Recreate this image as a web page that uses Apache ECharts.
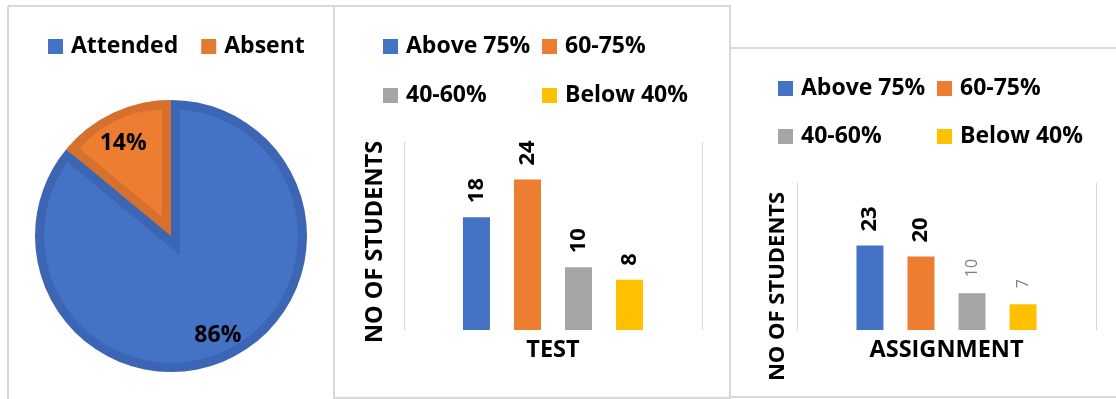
<!DOCTYPE html>
<html>
<head>
<meta charset="utf-8">
<script src="https://cdn.jsdelivr.net/npm/echarts@6/dist/echarts.min.js"></script>
<style>
  html, body { margin: 0; padding: 0; background: #ffffff; }
  #chart { width: 1116px; height: 399px; }
</style>
</head>
<body>
<div id="chart"></div>
<script>
// Attendance split, in percent
const attendanceNames = ['Attended', 'Absent'];
const attendanceValues = [86, 14];

// Score bands shared by both bar charts
const bandNames = ['Above 75%', '60-75%', '40-60%', 'Below 40%'];

// Number of students per band
const testCategory = ['TEST'];
const testCounts = [18, 24, 10, 8];
const assignmentCategory = ['ASSIGNMENT'];
const assignmentCounts = [23, 20, 10, 7];

// Value-axis ranges
const testAxisMax = 30;
const assignmentAxisMax = 40;

const FONT = 'Open Sans';
const BLUE = '#4472C4', BLUE_RIM = '#3C65B3';
const ORANGE = '#ED7D31', ORANGE_RIM = '#D6712D';
const GRAY = '#A5A5A5', YELLOW = '#FFC000';
const BAND_COLORS = [BLUE, ORANGE, GRAY, YELLOW];
const FRAME = '#D9D9D9';
const NONE = 'rgba(0,0,0,0)';

// Pie geometry: each slice gets a darker rim drawn inside its own edges
const PIE_C = [171, 236], PIE_R = 136, RIM = 9;
const total = attendanceValues.reduce((a, b) => a + b, 0);
const half = Math.PI * attendanceValues[1] / total;   // half-angle of the Absent slice
const mid = Math.PI / 2 + half;                          // Absent sits counter-clockwise of 12 o'clock
const shift = RIM / Math.sin(half);
const dir = [Math.cos(mid), -Math.sin(mid)];
const innerR = PIE_R - RIM;
const towardAbsent = [PIE_C[0] + dir[0] * shift, PIE_C[1] + dir[1] * shift];
const awayFromAbsent = [PIE_C[0] - dir[0] * shift, PIE_C[1] - dir[1] * shift];
const wedgeR = shift * Math.cos(half) + Math.sqrt(innerR * innerR - RIM * RIM);
const absentInnerR = innerR - shift + 1;

function pieLayer(colors, radius, center, label, itemLabels) {
  return {
    type: 'pie', silent: true, animation: false,
    startAngle: 90, clockwise: true,
    center: center, radius: radius,
    emphasis: { disabled: true },
    labelLine: { show: false },
    label: label || { show: false },
    data: attendanceNames.map((n, i) => {
      const item = { name: n, value: attendanceValues[i], itemStyle: { color: colors[i] } };
      if (itemLabels && itemLabels[i]) item.label = itemLabels[i];
      return item;
    })
  };
}

const pieSeries = [
  pieLayer([BLUE_RIM, ORANGE_RIM], [0, PIE_R], PIE_C),
  pieLayer([BLUE, NONE], [0, innerR], PIE_C),
  pieLayer([NONE, BLUE_RIM], [0, wedgeR], awayFromAbsent),
  pieLayer([NONE, ORANGE_RIM], [0, PIE_R], PIE_C),
  pieLayer([NONE, ORANGE], [0, absentInnerR], towardAbsent),
  pieLayer([NONE, NONE], [78, PIE_R], PIE_C, {
    show: true, position: 'inside', formatter: '{c}%',
    fontFamily: FONT, fontWeight: 'bold', fontSize: 23, color: '#000'
  }, [null, { offset: [-1, 7] }])
];

const boldLabel = {
  show: true, position: 'top', rotate: 90, align: 'left', verticalAlign: 'middle',
  distance: 14, fontFamily: FONT, fontWeight: 'bold', fontSize: 22, color: '#000'
};
const plainLabel = Object.assign({}, boldLabel, {
  fontWeight: 'normal', fontSize: 16, color: '#7F7F7F', distance: 16
});

function barSeries(counts, axisIdx, yIdx, labels) {
  return bandNames.map((name, i) => ({
    type: 'bar', name: name, xAxisIndex: axisIdx, yAxisIndex: yIdx,
    barWidth: 27, barGap: '89%', animation: false,
    itemStyle: { color: BAND_COLORS[i] },
    label: labels[i],
    data: [counts[i]]
  }));
}

const testSeries = barSeries(testCounts, 0, 0, [boldLabel, boldLabel, boldLabel, boldLabel]);
const assignmentSeries = barSeries(assignmentCounts, 1, 2, [boldLabel, boldLabel, plainLabel, plainLabel]);

const legendText = { fontFamily: FONT, fontWeight: 'bold', fontSize: 23, lineHeight: 23, color: '#000', padding: [0, 0, 0, 3] };
function bandLegend(names, left, top, gap) {
  return {
    data: names, orient: 'vertical', left: left, top: top, itemGap: gap, padding: 0,
    icon: 'rect', itemWidth: 15, itemHeight: 15, selectedMode: false,
    textStyle: legendText
  };
}

function valueAxis(gridIndex, max, position, name, gap, size, shiftDown) {
  return {
    type: 'value', gridIndex: gridIndex, position: position, min: 0, max: max,
    axisLine: { show: true, lineStyle: { color: FRAME, width: 1 } },
    axisTick: { show: false }, axisLabel: { show: false }, splitLine: { show: false },
    name: name || '', nameLocation: 'middle', nameRotate: 90, nameGap: gap || 0,
    nameTextStyle: {
      fontFamily: FONT, fontWeight: 'bold', fontSize: size || 23, lineHeight: 24, color: '#000',
      padding: [0, (shiftDown || 0) * 2, 0, 0]
    }
  };
}

function categoryAxis(gridIndex, data) {
  return {
    type: 'category', gridIndex: gridIndex, data: data,
    axisLine: { show: false }, axisTick: { show: false }, axisLabel: { show: false },
    name: data[0], nameLocation: 'middle', nameGap: 8,
    nameTextStyle: { fontFamily: FONT, fontWeight: 'bold', fontSize: 23.5, color: '#000' }
  };
}

function line(x1, y1, x2, y2) {
  return { type: 'line', silent: true, shape: { x1, y1, x2, y2 }, style: { stroke: FRAME, lineWidth: 2 } };
}

const option = {
  backgroundColor: '#ffffff',
  textStyle: { fontFamily: FONT },
  graphic: [
    line(8, 6, 8, 399), line(8, 6, 334, 6), line(334, 6, 334, 399),
    line(334, 6, 731, 6), line(730, 6, 730, 399), line(334, 398, 730, 398),
    line(730, 48, 1116, 48), line(730, 397, 1116, 397)
  ],
  legend: [
    {
      data: [
        { name: 'Attended', itemStyle: { color: BLUE } },
        { name: 'Absent', itemStyle: { color: '#E27A30' } }
      ],
      orient: 'horizontal', left: 48, top: 35, itemGap: 23, padding: 0,
      icon: 'rect', itemWidth: 15, itemHeight: 15, selectedMode: false,
      textStyle: legendText
    },
    bandLegend(['Above 75%', '40-60%'], 383, 35, 26),
    bandLegend(['60-75%', 'Below 40%'], 542, 35, 26),
    bandLegend(['Above 75%', '40-60%'], 778, 77, 25),
    bandLegend(['60-75%', 'Below 40%'], 937, 77, 25)
  ],
  grid: [
    { left: 404, right: 1116 - 702, top: 142, bottom: 399 - 330 },
    { left: 797, right: 1116 - 1096, top: 183, bottom: 399 - 330 }
  ],
  xAxis: [categoryAxis(0, testCategory), categoryAxis(1, assignmentCategory)],
  yAxis: [
    valueAxis(0, testAxisMax, 'left', 'NO OF STUDENTS', 17, 23.5, 6),
    valueAxis(0, testAxisMax, 'right'),
    valueAxis(1, assignmentAxisMax, 'left', 'NO OF STUDENTS', 7, 22, 30),
    valueAxis(1, assignmentAxisMax, 'right')
  ],
  series: pieSeries.concat(testSeries, assignmentSeries)
};

const chart = echarts.init(document.getElementById('chart'), null, { renderer: 'canvas' });
chart.setOption(option);
</script>
</body>
</html>
